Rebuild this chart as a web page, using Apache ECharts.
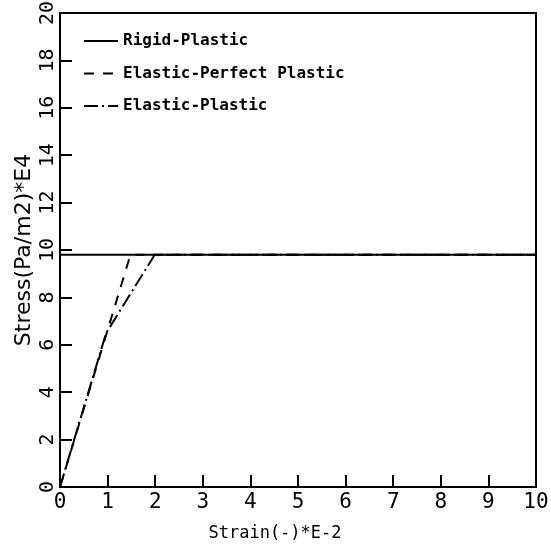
<!DOCTYPE html>
<html><head><meta charset="utf-8">
<script src="https://cdn.jsdelivr.net/npm/echarts@6/dist/echarts.min.js"></script>
<style>html,body{margin:0;padding:0;background:#fff}#c{width:551px;height:546px}</style>
</head><body><div id="c"></div>
<script>
const seriesNames = ['Rigid-Plastic', 'Elastic-Perfect Plastic', 'Elastic-Plastic'];
const rigidX = [0, 0, 10];
const rigidY = [0, 9.8, 9.8];
const perfectX = [0, 1.48, 10];
const perfectY = [0, 9.8, 9.8];
const elasticX = [0, 0.97, 1.99, 10];
const elasticY = [0, 6.5, 9.8, 9.8];
const xTicks = [0,1,2,3,4,5,6,7,8,9,10];
const yTicks = [0,2,4,6,8,10,12,14,16,18,20];

const zip = (xs, ys) => xs.map((x, i) => [x, ys[i]]);
const mono = "'DejaVu Sans Mono'";
const chart = echarts.init(document.getElementById('c'));
chart.setOption({
  animation: false,
  backgroundColor: '#fff',
  grid: {left: 60, right: 15, top: 13, bottom: 59, show: true, borderColor: '#000', borderWidth: 2,
         outerBoundsMode: 'none', containLabel: false},
  legend: {
    orient: 'vertical', left: 78, top: 28, itemWidth: 34, itemHeight: 12, itemGap: 16.5,
    itemStyle: {opacity: 0},
    textStyle: {fontFamily: mono, fontSize: 16, fontWeight: 'bold', color: '#000'},
    data: seriesNames
  },
  xAxis: {
    type: 'value', min: 0, max: 10, interval: 1,
    name: 'Strain(-)*E-2', nameLocation: 'middle', nameGap: 38, nameMoveOverlap: false,
    nameTextStyle: {fontFamily: mono, fontSize: 17, color: '#000', padding: [0, 46, 0, 0]},
    axisLine: {lineStyle: {color: '#000', width: 2}},
    axisTick: {inside: true, length: 12, lineStyle: {color: '#000', width: 2}},
    axisLabel: {fontFamily: mono, fontSize: 21, color: '#000', margin: 5,
      formatter: v => xTicks.includes(v) ? String(v) : ''},
    splitLine: {show: false}
  },
  yAxis: {
    type: 'value', min: 0, max: 20, interval: 2,
    name: 'Stress(Pa/m2)*E4', nameLocation: 'middle', nameGap: 25, nameMoveOverlap: false,
    nameTextStyle: {fontFamily: 'DejaVu Sans', fontSize: 22, color: '#000'},
    axisLine: {lineStyle: {color: '#000', width: 2}},
    axisTick: {inside: true, length: 12, lineStyle: {color: '#000', width: 2}},
    axisLabel: {fontFamily: mono, fontSize: 20, color: '#000', rotate: 90, margin: 2,
      formatter: v => yTicks.includes(v) ? String(v) : ''},
    splitLine: {show: false}
  },
  series: [
    {name: seriesNames[0], type: 'line', data: zip(rigidX, rigidY), symbol: 'none',
     lineStyle: {color: '#000', width: 2, type: 'solid'}, itemStyle: {color: '#000'}},
    {name: seriesNames[1], type: 'line', data: zip(perfectX, perfectY), symbol: 'none',
     lineStyle: {color: '#000', width: 2, type: [10, 9]}, itemStyle: {color: '#000'}},
    {name: seriesNames[2], type: 'line', data: zip(elasticX, elasticY), symbol: 'none',
     lineStyle: {color: '#000', width: 2, type: [14, 4, 2, 4]}, itemStyle: {color: '#000'}}
  ]
});
</script></body></html>
